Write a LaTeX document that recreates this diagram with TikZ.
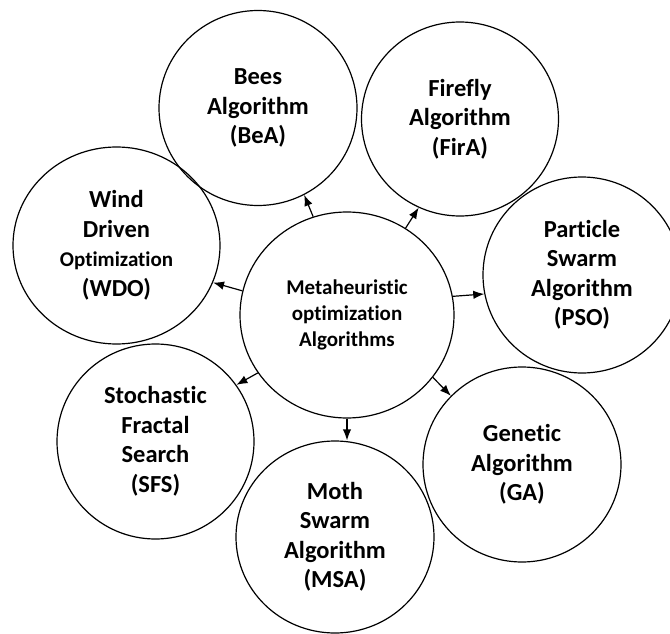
\documentclass[tikz,border=0pt]{standalone}
\usepackage{fontspec}
\setmainfont{Carlito}[Ligatures=NoCommon]
\usetikzlibrary{shapes.geometric,arrows.meta}
\tikzset{
  bub/.style={draw=black, line width=1.2pt, ellipse, inner sep=0pt, align=center,
    font=\bfseries\fontsize{24.5}{29.5}\selectfont},
  arr/.style={-{Latex[length=11pt,width=8.5pt]}, line width=1.2pt}
}
\begin{document}
\begin{tikzpicture}[x=1pt,y=-1pt]
\useasboundingbox (0,0) rectangle (670,634);
\begin{scope}
\clip (0,0) rectangle (670,634);
\node[bub, minimum width=214pt, minimum height=206pt, font=\bfseries\fontsize{21}{26}\selectfont] (C) at (347,315) {Metaheuristic\\optimization\\Algorithms};
\node[bub, minimum width=198pt, minimum height=195pt] (B) at (258,108) {Bees\\Algorithm\\(BeA)};
\node[bub, minimum width=197pt, minimum height=194pt] (F) at (460,119) {Firefly\\Algorithm\\(FirA)};
\node[bub, minimum width=207pt, minimum height=197pt] (W) at (116.5,245.5) {Wind\\Driven\\{\fontsize{21}{26}\selectfont Optimization}\\(WDO)};
\node[bub, minimum width=198pt, minimum height=196pt] (P) at (582,275) {Particle\\Swarm\\Algorithm\\(PSO)};
\node[bub, minimum width=198pt, minimum height=195pt] (G) at (522,464.5) {Genetic\\Algorithm\\(GA)};
\node[bub, minimum width=197pt, minimum height=195pt] (S) at (155.5,441.5) {Stochastic\\Fractal\\Search\\(SFS)};
\node[bub, minimum width=198pt, minimum height=192pt] (M) at (335,537) {Moth\\Swarm\\Algorithm\\(MSA)};
\end{scope}
\draw[arr] (C.109.7) -- (B.-62);
\draw[arr] (C.56.6) -- (F.-115);
\draw[arr] (C.10.7) -- (P.191.4);
\draw[arr] (C.-36.2) -- (G.136.3);
\draw[arr] (C.south) -- (C.south |- M.north);
\draw[arr] (C.213) -- (S.35);
\draw[arr] (C.167.6) -- (W.-21);
\end{tikzpicture}
\end{document}
